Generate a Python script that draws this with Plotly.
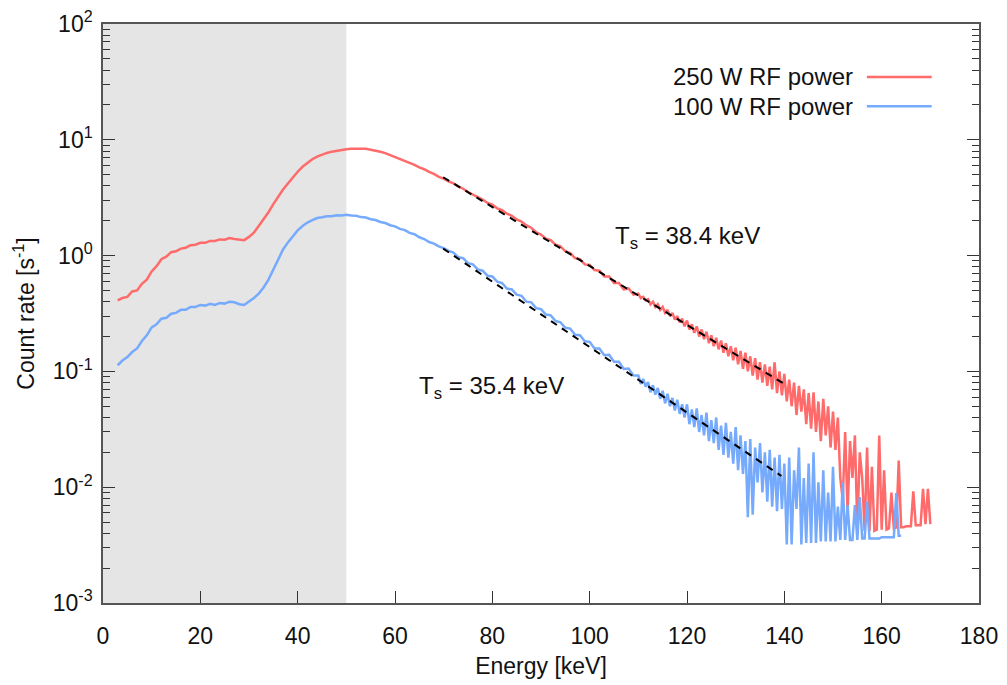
import math
import plotly.graph_objects as go

# ---------------- data ----------------
# channel energies [keV]
energy_main_keV = [float(e) for e in range(3, 110)]            # 3 .. 109, 1 keV steps
energy_tail_250_keV = [110 + 0.5 * i for i in range(121)]      # 110 .. 170, 0.5 keV steps
energy_tail_100_keV = [110 + 0.5 * i for i in range(109)]      # 110 .. 164, 0.5 keV steps

rate_250W_main = [
    0.41, 0.43, 0.44, 0.49, 0.50, 0.57, 0.62, 0.73, 0.81, 0.93,
    0.98, 1.07, 1.09, 1.15, 1.17, 1.23, 1.24, 1.29, 1.29, 1.34,
    1.34, 1.38, 1.37, 1.42, 1.39, 1.37, 1.36, 1.45, 1.58, 1.80,
    2.05, 2.37, 2.78, 3.25, 3.72, 4.20, 4.75, 5.30, 5.85, 6.35,
    6.80, 7.15, 7.45, 7.70, 7.90, 8.05, 8.20, 8.28, 8.35, 8.42,
    8.38, 8.36, 8.22, 8.12, 7.88, 7.68, 7.38, 7.18, 6.88, 6.62,
    6.28, 6.07, 5.78, 5.57, 5.28, 5.07, 4.78, 4.62, 4.38, 4.20,
    3.96, 3.78, 3.54, 3.38, 3.18, 3.05, 2.85, 2.75, 2.56, 2.47,
    2.30, 2.21, 2.05, 1.97, 1.82, 1.74, 1.59, 1.52, 1.40, 1.36,
    1.24, 1.20, 1.09, 1.05, 0.95, 0.93, 0.84, 0.83, 0.75, 0.74,
    0.66, 0.66, 0.58, 0.58, 0.51, 0.52, 0.46,
]
rate_250W_tail = [
    0.47, 0.43, 0.44, 0.41, 0.42, 0.38, 0.40, 0.36, 0.38, 0.34,
    0.36, 0.32, 0.34, 0.30, 0.32, 0.28, 0.30, 0.265, 0.285, 0.245,
    0.275, 0.23, 0.255, 0.215, 0.245, 0.20, 0.23, 0.19, 0.22, 0.175,
    0.205, 0.165, 0.195, 0.155, 0.185, 0.145, 0.175, 0.135, 0.165, 0.125,
    0.16, 0.115, 0.15, 0.105, 0.145, 0.10, 0.135, 0.092, 0.13, 0.085,
    0.12, 0.08, 0.115, 0.075, 0.11, 0.07, 0.12, 0.065, 0.10, 0.062,
    0.095, 0.055, 0.085, 0.05, 0.08, 0.042, 0.075, 0.045, 0.07, 0.035,
    0.065, 0.032, 0.066, 0.03, 0.055, 0.025, 0.058, 0.028, 0.05, 0.022,
    0.045, 0.021, 0.04, 0.012, 0.0078, 0.03, 0.006, 0.025, 0.012, 0.028,
    0.0045, 0.02, 0.012, 0.0042, 0.022, 0.0042, 0.015, 0.0042, 0.0043, 0.028,
    0.0043, 0.014, 0.0043, 0.0044, 0.009, 0.0044, 0.0045, 0.017, 0.0045, 0.0045,
    0.0046, 0.0046, 0.0046, 0.0092, 0.0047, 0.0047, 0.0047, 0.0097, 0.0048, 0.0097,
    0.0048,
]

rate_100W_main = [
    0.113, 0.124, 0.133, 0.147, 0.158, 0.183, 0.205, 0.24, 0.255, 0.285,
    0.29, 0.315, 0.32, 0.34, 0.34, 0.36, 0.36, 0.375, 0.37, 0.383,
    0.375, 0.39, 0.385, 0.40, 0.395, 0.38, 0.375, 0.40, 0.43, 0.47,
    0.53, 0.62, 0.76, 0.95, 1.13, 1.30, 1.48, 1.65, 1.80, 1.93,
    2.02, 2.11, 2.14, 2.19, 2.19, 2.23, 2.22, 2.25, 2.22, 2.21,
    2.15, 2.13, 2.06, 2.03, 1.95, 1.91, 1.83, 1.79, 1.70, 1.66,
    1.57, 1.53, 1.44, 1.39, 1.31, 1.27, 1.20, 1.16, 1.10, 1.06,
    0.97, 0.95, 0.86, 0.84, 0.76, 0.74, 0.67, 0.66, 0.595, 0.58,
    0.52, 0.51, 0.46, 0.45, 0.40, 0.395, 0.352, 0.345, 0.31, 0.305,
    0.272, 0.265, 0.238, 0.234, 0.207, 0.205, 0.182, 0.18, 0.158, 0.158,
    0.138, 0.139, 0.121, 0.121, 0.105, 0.106, 0.092,
]
rate_100W_tail = [
    0.092, 0.078, 0.086, 0.074, 0.081, 0.066, 0.076, 0.063, 0.072, 0.058,
    0.068, 0.053, 0.064, 0.050, 0.059, 0.046, 0.057, 0.043, 0.052, 0.040,
    0.052, 0.035, 0.047, 0.033, 0.048, 0.030, 0.042, 0.028, 0.044, 0.025,
    0.038, 0.024, 0.040, 0.021, 0.034, 0.019, 0.036, 0.018, 0.030, 0.016,
    0.033, 0.014, 0.028, 0.013, 0.025, 0.0055, 0.026, 0.0058, 0.022, 0.011,
    0.024, 0.009, 0.02, 0.0075, 0.021, 0.0068, 0.018, 0.0062, 0.019, 0.0065,
    0.016, 0.0032, 0.018, 0.0032, 0.014, 0.0065, 0.022, 0.0032, 0.012, 0.0033,
    0.016, 0.0033, 0.02, 0.0033, 0.011, 0.0034, 0.014, 0.0034, 0.009, 0.0034,
    0.015, 0.0034, 0.0068, 0.0035, 0.011, 0.0035, 0.007, 0.0035, 0.0035, 0.007,
    0.0035, 0.0082, 0.0036, 0.0036, 0.0075, 0.0036, 0.0036, 0.0036, 0.0036, 0.0036,
    0.0037, 0.0037, 0.0037, 0.0037, 0.0037, 0.0037, 0.0089, 0.0038, 0.0038,
]

# exponential fits (end points of the dashed lines)
fit_250W_energy = [69.9, 139.8]
fit_250W_rate = [4.75, 0.0789]
fit_100W_energy = [69.9, 139.4]
fit_100W_rate = [1.15, 0.0125]

series_names = ["250 W RF power", "100 W RF power"]
fit_labels = ["T<sub>s</sub> = 38.4 keV", "T<sub>s</sub> = 35.4 keV"]
fit_label_energy = [104.8, 64.5]
fit_label_rate = [1.42, 0.072]
shaded_range_keV = [0, 50]

x_ticks = [0, 20, 40, 60, 80, 100, 120, 140, 160, 180]
y_ticks = [1e-3, 1e-2, 1e-1, 1e0, 1e1, 1e2]
y_tick_text = ["10<sup>-3</sup>", "10<sup>-2</sup>", "10<sup>-1</sup>",
               "10<sup>0</sup>", "10<sup>1</sup>", "10<sup>2</sup>"]

# ---------------- styles ----------------
RED = "#ff6a6a"
BLUE = "#76aafc"
FONT = "Liberation Sans, Arial, sans-serif"
TXT = "#111111"

fig = go.Figure()

fig.add_trace(go.Scatter(
    x=energy_main_keV + energy_tail_250_keV,
    y=rate_250W_main + rate_250W_tail,
    mode="lines", line=dict(color=RED, width=2.5), name=series_names[0],
    showlegend=False,
))
fig.add_trace(go.Scatter(
    x=energy_main_keV + energy_tail_100_keV,
    y=rate_100W_main + rate_100W_tail,
    mode="lines", line=dict(color=BLUE, width=2.5), name=series_names[1],
    showlegend=False,
))
fig.add_trace(go.Scatter(
    x=fit_250W_energy, y=fit_250W_rate, mode="lines",
    line=dict(color="black", width=2, dash="7px,6px"), showlegend=False,
))
fig.add_trace(go.Scatter(
    x=fit_100W_energy, y=fit_100W_rate, mode="lines",
    line=dict(color="black", width=2, dash="7px,6px"), showlegend=False,
))

# shaded region
fig.add_shape(type="rect", xref="x", yref="paper",
              x0=shaded_range_keV[0], x1=shaded_range_keV[1], y0=0, y1=1,
              fillcolor="#e5e5e5", line=dict(width=0), layer="below")

# fit annotations (log axis -> annotation y in log10 units)
for txt, ex, ey in zip(fit_labels, fit_label_energy, fit_label_rate):
    fig.add_annotation(x=ex, y=math.log10(ey), xref="x", yref="y", text=txt,
                       showarrow=False, xanchor="left", yanchor="middle",
                       font=dict(family=FONT, size=24, color=TXT))

# gnuplot-style legend (text then line sample)
legend_rows = [(0.9085, RED), (0.858, BLUE)]
for name, (py, col) in zip(series_names, legend_rows):
    fig.add_annotation(x=0.858, y=py, xref="paper", yref="paper", text=name,
                       showarrow=False, xanchor="right", yanchor="middle",
                       font=dict(family=FONT, size=24, color=TXT))
    fig.add_shape(type="line", xref="paper", yref="paper",
                  x0=0.872, x1=0.946, y0=py, y1=py, line=dict(color=col, width=2.5))

# the page body adds an 8 px offset, compensated in the margins
fig.update_layout(
    width=1007, height=685,
    margin=dict(l=95, r=36, t=16, b=90, autoexpand=False),
    paper_bgcolor="white", plot_bgcolor="white",
    font=dict(family=FONT, size=23, color=TXT),
    showlegend=False,
)
fig.update_xaxes(
    range=[0, 180], tickvals=x_ticks, ticks="inside", ticklen=12, tickwidth=1,
    tickcolor="#333", showline=True, linecolor="#555", linewidth=1.5, mirror=True,
    showgrid=False, zeroline=False, ticklabelstandoff=12, automargin=False,
    ticklabeloverflow="allow",
    tickfont=dict(family=FONT, size=23, color=TXT),
    title=dict(text="Energy [keV]", font=dict(family=FONT, size=23, color=TXT), standoff=10),
)
fig.update_yaxes(
    type="log", range=[-3, 2], tickvals=y_ticks, ticktext=y_tick_text,
    ticks="inside", ticklen=12, tickwidth=1, tickcolor="#333",
    minor=dict(ticks="inside", ticklen=7, tickcolor="#333", showgrid=False,
               tickvals=[m * 10 ** d for d in range(-3, 2) for m in range(2, 10)]),
    showline=True, linecolor="#555", linewidth=1.5, mirror="ticks",
    showgrid=False, zeroline=False, ticklabelstandoff=4, automargin=False,
    ticklabeloverflow="allow",
    tickfont=dict(family=FONT, size=23, color=TXT),
    title=dict(text="Count rate [s<sup>-1</sup>]", font=dict(family=FONT, size=23, color=TXT), standoff=12),
)

fig.write_html("out.html")
